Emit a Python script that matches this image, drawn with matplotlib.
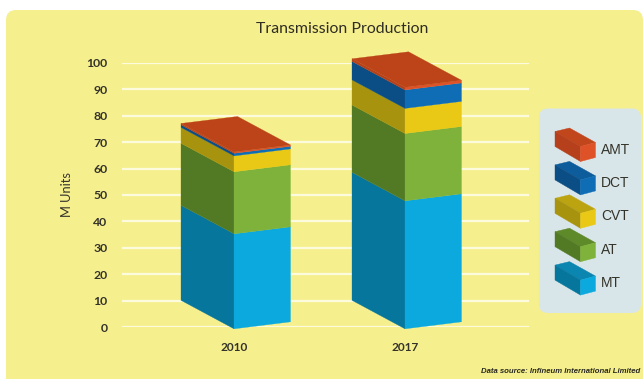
import numpy as np
import matplotlib
matplotlib.use("Agg")
import matplotlib.pyplot as plt
from matplotlib.patches import FancyBboxPatch, Polygon

# production in million units, one list per transmission type
years = ["2010", "2017"]
mt = [36, 48.5]
at = [23.5, 25.5]
cvt = [6, 9.5]
dct = [1, 7]
amt = [0.5, 1]

series_names = ["MT", "AT", "CVT", "DCT", "AMT"]
yticks = list(range(0, 101, 10))

front_colors = ["#0BA9DD", "#7FB23A", "#E9C916", "#0E6DB5", "#DF5228"]
side_colors = ["#06769C", "#527A25", "#A8930F", "#0B4E86", "#B5401B"]
legend_tops = ["#0A86B0", "#5F8A2A", "#BCA411", "#0D5C9C", "#C2461C"]
top_color = "#BC4418"
yellow = "#F6EF8E"
text_color = "#34332A"

W, H = 644, 379
PX_PER_UNIT = 2.64
BASE = -0.7

fig = plt.figure(figsize=(W / 100, H / 100), dpi=100, facecolor="white")
plt.rcParams["font.family"] = ["Lato", "DejaVu Sans"]

# background layer works in pixels, y pointing down
bg = fig.add_axes([0, 0, 1, 1])
bg.set_xlim(0, W)
bg.set_ylim(H, 0)
bg.axis("off")
bg.add_patch(FancyBboxPatch((6, 10), 637, 420, boxstyle="round,pad=0,rounding_size=10",
                            fc=yellow, ec="none"))
bg.add_patch(FancyBboxPatch((539, 108.5), 102, 204.5, boxstyle="round,pad=0,rounding_size=9",
                            fc="#D9E6E9", ec="none"))


def legend_box(ax, x, y, front, side, top):
    # small 3d block, x/y is the top of its near edge
    ax.add_patch(Polygon([(x - 25.5, y - 15), (x - 11, y - 18.5), (x + 15, y - 4), (x, y)],
                         fc=top, ec=top, lw=0.3))
    ax.add_patch(Polygon([(x - 25.5, y - 15), (x, y), (x, y + 15), (x - 25.5, y)],
                         fc=side, ec=side, lw=0.3))
    ax.add_patch(Polygon([(x, y), (x + 15, y - 4), (x + 15, y + 11), (x, y + 15)],
                         fc=front, ec=front, lw=0.3))


for i, name in enumerate(series_names):
    row = 4 - i
    y = 146.5 + row * 33.4
    legend_box(bg, 580.5, y, front_colors[i], side_colors[i], legend_tops[i])
    bg.text(601, y + 3, name, fontsize=10, color=text_color, va="center", ha="left",
            family=["Liberation Sans"])

# chart axes: x stays in pixels, y in M units
left, right, top, bottom = 122, 529, 63, 327
ax = fig.add_axes([left / W, 1 - bottom / H, (right - left) / W, (bottom - top) / H])
ax.patch.set_alpha(0)
ax.set_xlim(left, right)
ax.set_ylim(0, 100)
for s in ax.spines.values():
    s.set_visible(False)
ax.set_yticks(yticks)
ax.set_yticklabels([str(t) for t in yticks], fontsize=8.8, color=text_color, fontweight="bold")
ax.grid(axis="y", color="#FDFBDD", lw=1.6)
ax.set_axisbelow(True)
ax.tick_params(axis="both", length=0)
ax.tick_params(axis="y", pad=10.5)
ax.tick_params(axis="x", pad=11)
ax.set_ylabel("M Units", fontsize=9.3, color=text_color)
ax.yaxis.set_label_coords((73 - left) / (right - left), 0.5)

front_x = [234, 405]
ax.set_xticks(front_x)
ax.set_xticklabels(years, fontsize=8.6, color=text_color, fontweight="bold")

# oblique box geometry, pixel offsets of the left and right faces
left_w, left_rise = 53, 28.5
right_w, right_rise = 56.5, 7

stacks = np.array([mt, at, cvt, dct, amt])
tops = np.cumsum(stacks, axis=0)
bottoms = tops - stacks

for j, fx in enumerate(front_x):
    lr = left_rise / PX_PER_UNIT
    rr = right_rise / PX_PER_UNIT
    for i in range(len(series_names)):
        y0 = BASE + bottoms[i, j]
        y1 = BASE + tops[i, j]
        ax.add_patch(Polygon([(fx - left_w, y0 + lr), (fx, y0), (fx, y1), (fx - left_w, y1 + lr)],
                             fc=side_colors[i], ec=side_colors[i], lw=0.2, clip_on=False, zorder=3))
        ax.add_patch(Polygon([(fx, y0), (fx + right_w, y0 + rr), (fx + right_w, y1 + rr), (fx, y1)],
                             fc=front_colors[i], ec=front_colors[i], lw=0.2, clip_on=False, zorder=3))
    y1 = BASE + tops[-1, j]
    ax.add_patch(Polygon([(fx, y1), (fx + right_w, y1 + rr),
                          (fx + right_w - left_w, y1 + rr + lr), (fx - left_w, y1 + lr)],
                         fc=top_color, ec=top_color, lw=0.2, clip_on=False, zorder=4))

fig.text(342 / W, 1 - 29 / H, "Transmission Production", fontsize=11.4, color="#2E2D22",
         ha="center", va="center")
fig.text(640 / W, 1 - 371.5 / H, "Data source: Infineum International Limited", fontsize=5.6,
         color="#2A2A20", ha="right", va="center", style="italic", fontweight="bold",
         family=["Liberation Sans"])

fig.savefig("out.png", dpi=100)
